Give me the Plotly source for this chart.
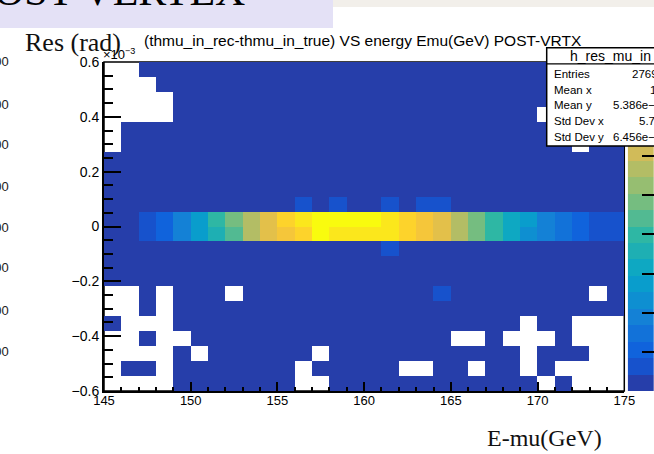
import numpy as np
import plotly.graph_objects as go

W, H = 654, 454

# ---------------- data ----------------
x_edges = [145, 146, 147, 148, 149, 150, 151, 152, 153, 154, 155, 156, 157, 158, 159, 160,
           161, 162, 163, 164, 165, 166, 167, 168, 169, 170, 171, 172, 173, 174, 175]
y_range = [-0.6, 0.6]          # x10^-3 rad
n_ybins = 22

# bin contents, rows listed from the TOP y bin down to the BOTTOM y bin (0 = empty)
counts_top_down = [
    [0, 0, 30, 30, 30, 30, 30, 30, 30, 30, 30, 30, 30, 30, 30, 30, 30, 30, 30, 30, 30, 30, 30, 30, 30, 30, 30, 30, 30, 30],
    [0, 0, 0, 30, 30, 30, 30, 30, 30, 30, 30, 30, 30, 30, 30, 30, 30, 30, 30, 30, 30, 30, 30, 30, 30, 30, 30, 30, 30, 30],
    [0, 0, 0, 0, 30, 30, 30, 30, 30, 30, 30, 30, 30, 30, 30, 30, 30, 30, 30, 30, 30, 30, 30, 30, 30, 30, 30, 30, 30, 30],
    [0, 0, 0, 0, 30, 30, 30, 30, 30, 30, 30, 30, 30, 30, 30, 30, 30, 30, 30, 30, 30, 30, 30, 30, 30, 0, 30, 30, 30, 30],
    [0, 30, 30, 30, 30, 30, 30, 30, 30, 30, 30, 30, 30, 30, 30, 30, 30, 30, 30, 30, 30, 30, 30, 30, 30, 30, 30, 30, 30, 30],
    [0, 30, 30, 30, 30, 30, 30, 30, 30, 30, 30, 30, 30, 30, 30, 30, 30, 30, 30, 30, 30, 30, 30, 30, 30, 30, 30, 0, 30, 30],
    [30, 30, 30, 30, 30, 30, 30, 30, 30, 30, 30, 30, 30, 30, 30, 30, 30, 30, 30, 30, 30, 30, 30, 30, 30, 30, 30, 30, 30, 30],
    [30, 30, 30, 30, 30, 30, 30, 30, 30, 30, 30, 30, 30, 30, 30, 30, 30, 30, 30, 30, 30, 30, 30, 30, 30, 30, 30, 30, 30, 30],
    [30, 30, 30, 30, 30, 30, 30, 30, 30, 30, 30, 30, 30, 30, 30, 30, 30, 30, 30, 30, 30, 30, 30, 30, 30, 30, 30, 30, 30, 30],
    [30, 30, 30, 30, 30, 30, 30, 30, 30, 30, 30, 260, 30, 260, 30, 30, 260, 30, 260, 260, 30, 30, 30, 30, 30, 30, 30, 30, 30, 30],
    [30, 30, 300, 520, 930, 1380, 1980, 2400, 2850, 3250, 3680, 3900, 4150, 4130, 4180, 4100, 3900, 3700, 3470, 3250, 2870, 2450, 2000, 1600, 1390, 960, 740, 530, 320, 310],
    [30, 30, 300, 510, 950, 1360, 1800, 2220, 2830, 3230, 3450, 3700, 4120, 3920, 3950, 3880, 3870, 3680, 3440, 3220, 2840, 2430, 1990, 1590, 1200, 950, 730, 520, 300, 300],
    [30, 30, 30, 30, 30, 30, 30, 30, 30, 30, 30, 30, 30, 30, 30, 30, 260, 30, 30, 30, 30, 30, 30, 30, 30, 30, 30, 30, 30, 30],
    [30, 30, 30, 30, 30, 30, 30, 30, 30, 30, 30, 30, 30, 30, 30, 30, 30, 30, 30, 30, 30, 30, 30, 30, 30, 30, 30, 30, 30, 30],
    [30, 30, 30, 30, 30, 30, 30, 30, 30, 30, 30, 30, 30, 30, 30, 30, 30, 30, 30, 30, 30, 30, 30, 30, 30, 30, 30, 30, 30, 30],
    [0, 0, 30, 0, 30, 30, 30, 0, 30, 30, 30, 30, 30, 30, 30, 30, 30, 30, 30, 260, 30, 30, 30, 30, 30, 30, 30, 30, 0, 30],
    [0, 0, 30, 0, 30, 30, 30, 30, 30, 30, 30, 30, 30, 30, 30, 30, 30, 30, 30, 30, 30, 30, 30, 30, 30, 30, 30, 30, 30, 30],
    [30, 0, 0, 0, 30, 30, 30, 30, 30, 30, 30, 30, 30, 30, 30, 30, 30, 30, 30, 30, 30, 30, 30, 30, 0, 30, 30, 0, 0, 0],
    [0, 0, 30, 0, 0, 30, 30, 30, 30, 30, 30, 30, 30, 30, 30, 30, 30, 30, 30, 30, 0, 0, 30, 0, 0, 0, 30, 0, 0, 0],
    [0, 0, 0, 0, 30, 0, 30, 30, 30, 30, 30, 30, 0, 30, 30, 30, 30, 30, 30, 30, 30, 30, 30, 30, 0, 30, 30, 30, 0, 0],
    [0, 30, 30, 0, 30, 30, 30, 30, 30, 30, 30, 0, 30, 30, 30, 30, 30, 0, 0, 30, 30, 0, 30, 30, 0, 30, 0, 0, 0, 0],
    [0, 0, 0, 0, 30, 30, 30, 30, 30, 30, 30, 0, 0, 30, 30, 30, 30, 30, 30, 30, 30, 30, 30, 30, 30, 0, 30, 0, 0, 0],
]

x_ticks = [145, 150, 155, 160, 165, 170, 175]
y_ticks = [-0.6, -0.4, -0.2, 0, 0.2, 0.4, 0.6]
z_range = [0, 4200]
z_ticks = [0, 500, 1000, 1500, 2000, 2500, 3000, 3500, 4000]
n_levels = 20

title_text = "(thmu_in_rec-thmu_in_true) VS energy Emu(GeV) POST-VRTX"
stats_name = "h_res_mu_in"
stats_labels = ["Entries", "Mean x", "Mean y", "Std Dev x", "Std Dev y"]
stats_values = ["27690", "160", "5.386e\u221206", "5.767", "6.456e\u221205"]
left_cut_labels = ["000", "000", "000", "000", "000", "000", "000", "000"]

# ---------------- palette (ROOT kBird, 20 contour levels) ----------------
bird_stops = [0.0, 0.125, 0.25, 0.375, 0.5, 0.625, 0.75, 0.875, 1.0]
bird_r = [0.2082, 0.0592, 0.0780, 0.0232, 0.1802, 0.5301, 0.8186, 0.9956, 0.9764]
bird_g = [0.1664, 0.3599, 0.5041, 0.6419, 0.7178, 0.7492, 0.7328, 0.7862, 0.9832]
bird_b = [0.5293, 0.8684, 0.8385, 0.7914, 0.6425, 0.4662, 0.3499, 0.1968, 0.0539]


def bird(t):
    r = np.interp(t, bird_stops, bird_r)
    g = np.interp(t, bird_stops, bird_g)
    b = np.interp(t, bird_stops, bird_b)
    return f"rgb({round(r*255)},{round(g*255)},{round(b*255)})"


level_colors = [bird((k + 1) / n_levels) for k in range(n_levels)]
colorscale = []
for k, c in enumerate(level_colors):
    colorscale.append([k / n_levels, c])
    colorscale.append([(k + 1) / n_levels, c])

# ---------------- geometry helpers ----------------
def px(x):
    return x / W


def py(y):
    return 1 - y / H


X0, X1 = 104, 624.3
Y0, Y1 = 62, 391   # top, bottom of the frame in pixels
CB0 = 627.7

y_edges = np.linspace(y_range[0], y_range[1], n_ybins + 1)
z = [[(v if v > 0 else None) for v in row] for row in counts_top_down[::-1]]

fig = go.Figure()
fig.add_trace(go.Heatmap(
    x=x_edges, y=y_edges, z=z, colorscale=colorscale, zmin=z_range[0], zmax=z_range[1],
    showscale=False, hoverinfo="skip", xaxis="x", yaxis="y"))

# palette drawn as a one-column heatmap
lev_w = (z_range[1] - z_range[0]) / n_levels
cb_edges = [z_range[0] + k * lev_w for k in range(n_levels + 1)]
cb_z = [[z_range[0] + (k + 0.5) * lev_w] for k in range(n_levels)]
fig.add_trace(go.Heatmap(
    x=[0, 1], y=cb_edges, z=cb_z, colorscale=colorscale, zmin=z_range[0], zmax=z_range[1],
    showscale=False, hoverinfo="skip", xaxis="x2", yaxis="y2"))

font_sans = "Liberation Sans, Arial, sans-serif"
font_serif = "Liberation Serif, Times New Roman, serif"

fig.update_layout(
    width=W, height=H, margin=dict(l=0, r=0, t=0, b=0, pad=0, autoexpand=False),
    paper_bgcolor="white", plot_bgcolor="white", showlegend=False,
    xaxis=dict(domain=[px(X0), px(X1)], range=[145, 175], tickvals=x_ticks,
               ticks="inside", ticklen=9, tickwidth=1.5, tickcolor="black",
               minor=dict(dtick=1, tick0=145, ticks="inside", ticklen=4.5, tickwidth=1.5, tickcolor="black"),
               showline=True, linecolor="black", linewidth=2, showgrid=False, zeroline=False,
               ticklabelstandoff=-4,
               tickfont=dict(family=font_sans, size=13, color="black"), anchor="y", automargin=False),
    yaxis=dict(domain=[py(Y1), py(Y0)], range=y_range, tickvals=y_ticks,
               ticks="inside", ticklen=17, tickwidth=2, tickcolor="black",
               minor=dict(dtick=0.05, tick0=0, ticks="inside", ticklen=9, tickwidth=2, tickcolor="black"),
               showline=True, linecolor="black", linewidth=2, showgrid=False, zeroline=False,
               tickfont=dict(family=font_sans, size=14, color="black"), anchor="x", automargin=False),
    xaxis2=dict(domain=[px(CB0), 1], range=[0, 1], visible=False, anchor="y2"),
    yaxis2=dict(domain=[py(Y1), py(Y0)], range=z_range, anchor="x2", side="right",
                tickvals=z_ticks, ticks="inside", ticklen=12, tickwidth=2, tickcolor="black",
                showticklabels=False, showline=False, showgrid=False, zeroline=False, automargin=False),
)

shapes = [
    # slide decorations at the top
    dict(type="rect", xref="paper", yref="paper", x0=px(-5), x1=px(333), y0=py(28), y1=py(-5),
         fillcolor="#E4E1F6", line=dict(width=0), layer="above"),
    dict(type="rect", xref="paper", yref="paper", x0=px(333), x1=px(660), y0=py(7), y1=py(-5),
         fillcolor="#F2EFEA", line=dict(width=0), layer="above"),
    # frame (drawn under the histogram)
    dict(type="rect", xref="paper", yref="paper", x0=px(X0), x1=px(X1), y0=py(Y1), y1=py(Y0),
         line=dict(color="black", width=1.5), layer="below"),
    # stats box
    dict(type="rect", xref="paper", yref="paper", x0=px(546.7), x1=px(700), y0=py(146), y1=py(47.7),
         fillcolor="white", line=dict(color="black", width=1.5), layer="above"),
    dict(type="line", xref="paper", yref="paper", x0=px(546.7), x1=px(700), y0=py(63.8), y1=py(63.8),
         line=dict(color="black", width=1.2), layer="above"),
]

ann = []
ann.append(dict(text="OST VERTEX", x=px(247), y=py(-9), xanchor="right", yanchor="middle",
                font=dict(family=font_serif, size=42, color="black")))
ann.append(dict(text=title_text, x=px(362.5), y=py(40), xanchor="center", yanchor="middle",
                font=dict(family=font_sans, size=15.5, color="black")))
ann.append(dict(text="Res (rad)", x=px(72.5), y=py(42), xanchor="center", yanchor="middle",
                font=dict(family=font_serif, size=26, color="#111111")))
ann.append(dict(text="E-mu(GeV)", x=px(544), y=py(438), xanchor="center", yanchor="middle",
                font=dict(family=font_serif, size=24, color="#111111")))
ann.append(dict(text="\u00d710<sup>\u22123</sup>", x=px(101), y=py(54), xanchor="left", yanchor="middle",
                font=dict(family=font_sans, size=13, color="black")))
left_ys = [62, 104, 145, 186, 227, 267, 310, 351]
for yy, t in zip(left_ys, left_cut_labels):
    ann.append(dict(text=t, x=px(11), y=py(yy), xanchor="right", yanchor="middle",
                    font=dict(family=font_sans, size=13, color="#222222")))
ann.append(dict(text=stats_name, x=px(610), y=py(56), xanchor="center", yanchor="middle",
                font=dict(family=font_sans, size=14, color="black")))
row_ys = [74.3, 90, 105.5, 121, 136.8]
val_x = [630, 648.3, 611, 636.7, 611]
for yy, lab, val, vx in zip(row_ys, stats_labels, stats_values, val_x):
    ann.append(dict(text=lab, x=px(551.5), y=py(yy), xanchor="left", yanchor="middle",
                    font=dict(family=font_sans, size=11.5, color="black")))
    ann.append(dict(text=val, x=px(vx), y=py(yy), xanchor="left", yanchor="middle",
                    font=dict(family=font_sans, size=11.5, color="black")))
for a in ann:
    a.update(xref="paper", yref="paper", showarrow=False)

fig.update_layout(shapes=shapes, annotations=ann)
fig.write_html("out.html")
